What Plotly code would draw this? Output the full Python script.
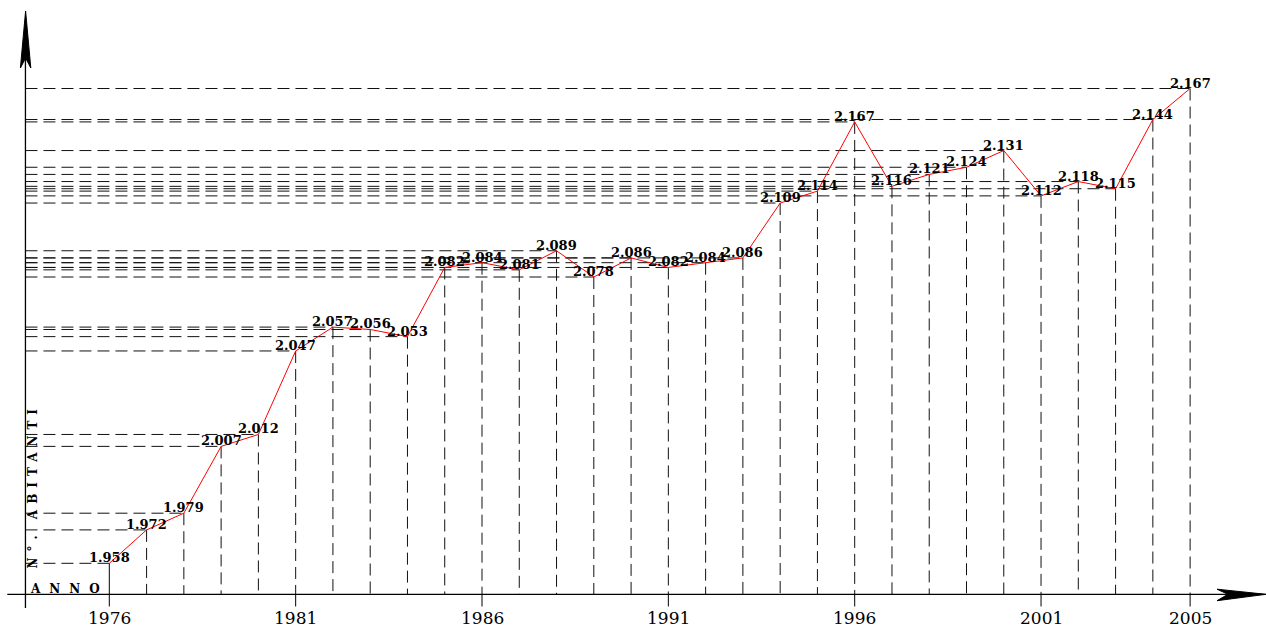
import plotly.graph_objects as go

# ---- data ----
years = list(range(1976, 2006))
# plotted positions (as drawn in the reference)
values = [1958, 1972, 1979, 2007, 2012, 2047, 2057, 2056, 2053, 2082,
          2084, 2081, 2089, 2078, 2086, 2082, 2084, 2086, 2109, 2114,
          2143, 2116, 2121, 2124, 2131, 2112, 2118, 2115, 2144, 2157]
# printed labels
labels = ["1.958", "1.972", "1.979", "2.007", "2.012", "2.047", "2.057", "2.056",
          "2.053", "2.082", "2.084", "2.081", "2.089", "2.078", "2.086", "2.082",
          "2.084", "2.086", "2.109", "2.114", "2.167", "2.116", "2.121", "2.124",
          "2.131", "2.112", "2.118", "2.115", "2.144", "2.167"]
tick_years = [1976, 1981, 1986, 1991, 1996, 2001, 2005]

W, H = 1266, 627
XR = [1973.067, 2007.036]
YR = [1931.3, 2194.1]
X_AXIS_V = 1945.0      # value where the horizontal axis sits
Y_AXIS_YEAR = 1973.75  # year where the vertical axis sits
TICK_BOTTOM_V = 1939.9
YEAR_LABEL_V = 1935.0

def px(xp):
    return xp / W

def py(yp):
    return 1 - yp / H

fig = go.Figure()

# dashed guide lines
hx, hy, vx, vy = [], [], [], []
for yr_, v in zip(years, values):
    hx += [Y_AXIS_YEAR, yr_, None]
    hy += [v, v, None]
    if yr_ != 1976:
        vx += [yr_, yr_, None]
        vy += [v, X_AXIS_V, None]
dash = "12px,6px"
fig.add_trace(go.Scatter(x=hx, y=hy, mode="lines",
                         line=dict(color="#111", width=1, dash=dash),
                         hoverinfo="skip", showlegend=False))
fig.add_trace(go.Scatter(x=vx, y=vy, mode="lines",
                         line=dict(color="#111", width=1, dash=dash),
                         hoverinfo="skip", showlegend=False))

# solid ticks below axis for labelled years (and 1976 drop line)
tx, ty = [], []
for t in tick_years:
    top = values[years.index(t)] if t == 1976 else X_AXIS_V
    tx += [t, t, None]
    ty += [top, TICK_BOTTOM_V, None]
fig.add_trace(go.Scatter(x=tx, y=ty, mode="lines",
                         line=dict(color="#000", width=1),
                         hoverinfo="skip", showlegend=False))

# axes lines
fig.add_trace(go.Scatter(x=[XR[0] + 7.3 / W * (XR[1] - XR[0]), 2007.0], y=[X_AXIS_V, X_AXIS_V],
                         mode="lines", line=dict(color="#000", width=1.3),
                         hoverinfo="skip", showlegend=False))
fig.add_trace(go.Scatter(x=[Y_AXIS_YEAR, Y_AXIS_YEAR], y=[1939.3, 2185.0],
                         mode="lines", line=dict(color="#000", width=1.3),
                         hoverinfo="skip", showlegend=False))

# red data line
fig.add_trace(go.Scatter(x=years, y=values, mode="lines",
                         line=dict(color="#ff0000", width=1),
                         hoverinfo="skip", showlegend=False))

annotations = []
for yr_, v, lab in zip(years, values, labels):
    annotations.append(dict(x=yr_, y=v, text=lab, showarrow=False,
                            xanchor="center", yanchor="bottom", yshift=-3,
                            borderpad=0,
                            font=dict(family="DejaVu Serif", size=13, color="#000",
                                      weight="bold")))
for t in tick_years:
    annotations.append(dict(x=t, y=YEAR_LABEL_V, text=str(t), showarrow=False,
                            xanchor="center", yanchor="middle",
                            font=dict(family="DejaVu Serif", size=17, color="#000")))

annotations.append(dict(xref="paper", yref="paper", x=px(32.5), y=py(486),
                        text='<span style="letter-spacing:6px">N°. ABITANTI</span>',
                        textangle=-90, showarrow=False,
                        xanchor="center", yanchor="middle",
                        font=dict(family="DejaVu Serif", size=12, color="#000",
                                  weight="bold")))
annotations.append(dict(xref="paper", yref="paper", x=px(69), y=py(589),
                        text='<span style="letter-spacing:9px">ANNO</span>',
                        showarrow=False, xanchor="center", yanchor="middle",
                        font=dict(family="DejaVu Serif", size=12, color="#000",
                                  weight="bold")))

# arrowheads
def path(pts):
    s = "M " + " L ".join(f"{px(a):.5f},{py(b):.5f}" for a, b in pts) + " Z"
    return s

shapes = [
    dict(type="path", xref="paper", yref="paper",
         path=path([(25.6, 11), (30.8, 68), (25.6, 58), (20.4, 68)]),
         fillcolor="#000", line=dict(color="#000", width=1)),
    dict(type="path", xref="paper", yref="paper",
         path=path([(1266, 594.3), (1217, 600.7), (1228, 594.3), (1217, 589.2)]),
         fillcolor="#000", line=dict(color="#000", width=1)),
]

fig.update_layout(
    width=W, height=H,
    margin=dict(l=0, r=0, t=0, b=0),
    paper_bgcolor="white", plot_bgcolor="white",
    xaxis=dict(range=XR, visible=False, fixedrange=True),
    yaxis=dict(range=YR, visible=False, fixedrange=True),
    annotations=annotations, shapes=shapes,
    showlegend=False,
)

fig.write_html("out.html", config={"displayModeBar": False},
               post_script="document.body.style.margin='0';")
